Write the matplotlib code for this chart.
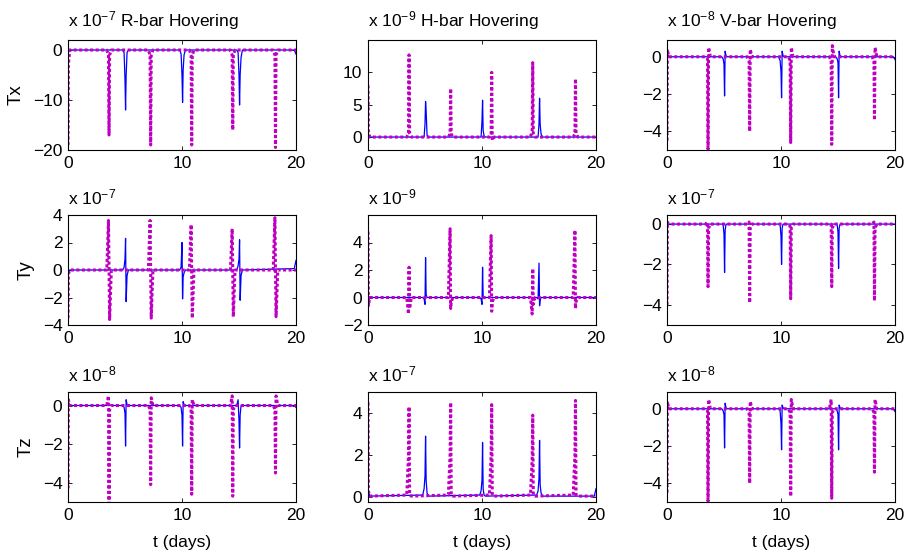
import numpy as np
import matplotlib.pyplot as plt

plt.rcParams['font.family'] = ['Liberation Sans', 'DejaVu Sans']
plt.rcParams['mathtext.default'] = 'regular'

# time grids (days)
t_blue = [0, 0.03, 0.15,
          4.8, 4.92, 5.0, 5.05, 5.1, 5.18, 5.3,
          9.8, 9.92, 10.0, 10.05, 10.1, 10.18, 10.3,
          14.8, 14.92, 15.0, 15.05, 15.1, 15.18, 15.3,
          19.85, 20.0]
t_mag = [0, 0.03, 0.15,
         3.4, 3.55, 3.6, 3.65, 3.8,
         7.05, 7.2, 7.25, 7.3, 7.45,
         10.65, 10.8, 10.85, 10.9, 11.05,
         14.25, 14.4, 14.45, 14.5, 14.65,
         18.0, 18.15, 18.2, 18.25, 18.4,
         20.0]

# Tx, R-bar (x 1e-7)
tx_r_blue = [-3, -0.5, 0,
             0, -0.5, -6, -12, -5, -0.5, 0,
             0, -0.8, -5, -10.5, -4, -1, 0,
             0, -0.5, -5, -11, -5, -1.5, 0,
             0, -0.8]
tx_r_mag = [-19, -3, 0,
            0, -1, -17, -1, 0,
            0, -1, -19, -1, 0,
            0, -1, -19, -1, 0,
            0, -1, -16, -1, 0,
            0, -1, -19.5, -1, 0,
            0]
# Tx, H-bar (x 1e-9)
tx_h_blue = [3, 0.5, 0,
             0, 0, 2, 5.5, 4, 0.3, 0,
             0, 0, 2.5, 5.7, 1, 0.2, 0,
             0, 0, 2, 6, 2, 0.5, 0,
             0, 0]
tx_h_mag = [8, 1, 0,
            0, 0.5, 12.7, 0.5, 0,
            0, 0.5, 7.5, 0.5, 0,
            0, 0.3, 10, -0.5, 0,
            0, 1, 11.5, 0.5, 0,
            0, 0.5, 9, 0.5, 0,
            0]
# Tx, V-bar (x 1e-8)
tx_v_blue = [-1, 0.2, 0,
             0, -0.1, -0.4, -2.1, 0.3, 0.05, 0,
             0, -0.2, -0.8, -2.2, 0.3, 0.05, 0,
             0, -0.1, -0.3, -2.2, 0.3, 0.05, 0,
             0, -0.15]
tx_v_mag = [-4.5, 0.4, 0,
            0, -0.1, -5.5, 0.5, 0,
            0, -0.2, -4.0, 0.4, 0,
            0, -0.2, -4.6, 0.5, 0,
            0, -0.2, -4.7, 0.6, 0,
            0, -0.2, -3.4, 0.5, 0,
            0]

# Ty, R-bar (x 1e-7)
ty_r_blue = [-2, -0.3, 0,
             0, 0.2, 0.8, 2.3, -2.3, -0.4, 0,
             0, 0.2, 2.0, -2.1, -0.5, -0.2, 0,
             0, 0.3, 0.8, 2.2, -2.2, -0.4, 0,
             0.1, 0.7]
ty_r_mag = [-3.5, -0.3, 0,
            0, 3.6, 0, -3.6, 0,
            0, 3.6, 0, -3.5, 0,
            0, 3.3, 0, -3.5, 0,
            0, 3.0, 0, -3.4, 0,
            0, 3.8, 0, -3.4, 0,
            0]
# Ty, H-bar (x 1e-9)
ty_h_blue = [2, -0.3, 0,
             0, -0.1, -0.5, 2.9, 0.2, 0, 0,
             0, -0.1, -0.5, 2.2, 0.1, 0, 0,
             0, -0.1, 2.5, -0.6, -0.2, 0, 0,
             0, 0]
ty_h_mag = [4.8, -0.6, 0,
            0, -1.2, 2.2, -0.8, 0,
            0, 5.0, -0.8, -0.3, 0,
            0, 4.5, -1.0, -0.3, 0,
            0, -1.2, 2.1, -0.5, 0,
            0, 4.9, -0.8, -0.3, 0,
            0]
# Ty, V-bar (x 1e-7)
ty_v_blue = [-1, 0, 0,
             0, 0, -0.5, -2.4, -0.3, 0, 0,
             0, 0, -0.6, -2.0, -0.2, 0, 0,
             0, 0, -0.4, -2.2, -0.2, 0, 0,
             0, 0]
ty_v_mag = [-4, 0.1, 0,
            0, 0.1, -3.1, -0.2, 0,
            0, 0.1, -3.9, -0.2, 0,
            0, -0.1, -3.7, -0.2, 0,
            0, 0.0, -3.1, -0.2, 0,
            0, 0.1, -3.8, -0.2, 0,
            0]

# Tz, R-bar (x 1e-8)
tz_r_blue = [-2, 0.2, 0,
             0, -0.1, -0.4, -2.1, 0.3, 0.05, 0,
             0, -0.1, -0.5, -2.1, 0.2, 0.05, 0,
             0, 0.3, -0.8, -2.2, -0.5, 0, 0,
             0, -0.1]
tz_r_mag = [-4.3, 0.3, 0,
            0, 0.5, -5.5, -0.2, 0,
            0, -0.2, -4.1, 0.4, 0,
            0, -0.2, -4.6, 0.3, 0,
            0, 0.5, -4.7, -0.2, 0,
            0, -0.2, -3.5, 0.5, 0,
            0]
# Tz, H-bar (x 1e-7)
tz_h_blue = [2.5, 0.3, 0.05,
             0.1, 0.4, 1.0, 2.9, 0.8, 0.2, 0.05,
             0.1, 0.3, 0.8, 2.6, 0.4, 0.1, 0.05,
             0.1, 0.3, 0.9, 2.7, 0.6, 0.2, 0.05,
             0.05, 0.4]
tz_h_mag = [4.5, 0.3, 0.05,
            0.1, 2.0, 4.3, 0.1, 0.05,
            0.1, 2.0, 4.5, 0.1, 0.05,
            0.1, 2.0, 4.4, 0.1, 0.05,
            0.1, 1.8, 3.9, 0.1, 0.05,
            0.1, 2.0, 4.6, 0.1, 0.05,
            0.05]
# Tz, V-bar (x 1e-8)
tz_v_blue = [-2, 0.2, 0,
             0, -0.1, -0.3, -2.1, 0.3, 0.05, 0,
             0, -0.1, -0.8, -2.2, 0.2, 0.05, 0,
             0, -0.1, -0.3, -2.2, 0.2, 0.05, 0,
             0, -0.15]
tz_v_mag = [-4.5, 0.4, 0,
            0, -0.1, -5.5, 0.5, 0,
            0, -0.2, -4.0, 0.4, 0,
            0, -0.2, -4.7, 0.5, 0,
            0, 0.5, -4.8, -0.2, 0,
            0, -0.2, -3.4, 0.5, 0,
            0]

titles = ['R-bar Hovering', 'H-bar Hovering', 'V-bar Hovering']
row_labels = ['Tx', 'Ty', 'Tz']
exponents = [[-7, -9, -8], [-7, -9, -7], [-8, -7, -8]]
blues = [[tx_r_blue, tx_h_blue, tx_v_blue],
         [ty_r_blue, ty_h_blue, ty_v_blue],
         [tz_r_blue, tz_h_blue, tz_v_blue]]
mags = [[tx_r_mag, tx_h_mag, tx_v_mag],
        [ty_r_mag, ty_h_mag, ty_v_mag],
        [tz_r_mag, tz_h_mag, tz_v_mag]]
ylims = [[(-20, 2), (-2, 15), (-5, 0.9)],
         [(-4, 4), (-2, 6), (-5, 0.45)],
         [(-5, 0.7), (-0.23, 5), (-5, 0.9)]]
yticks = [[[-20, -10, 0], [0, 5, 10], [-4, -2, 0]],
          [[-4, -2, 0, 2, 4], [-2, 0, 2, 4], [-4, -2, 0]],
          [[-4, -2, 0], [0, 2, 4], [-4, -2, 0]]]

W, H = 912, 558
col_left = [68, 368, 667]
row_top = [40, 215, 392]
aw, ah = 228, 110

fig = plt.figure(figsize=(W / 100, H / 100), dpi=100)
fs = 12.5

for i in range(3):
    for j in range(3):
        ax = fig.add_axes([col_left[j] / W, 1 - (row_top[i] + ah) / H, aw / W, ah / H])
        ax.plot(t_blue, blues[i][j], color='#0000ff', lw=0.9)
        ax.plot(t_mag, mags[i][j], color='#c000c0', lw=2.2,
                linestyle=(0, (1.0, 0.8)), dash_capstyle='butt')
        ax.set_xlim(0, 20)
        ax.set_ylim(*ylims[i][j])
        ax.set_xticks([0, 10, 20])
        ax.set_yticks(yticks[i][j])
        ax.tick_params(direction='in', top=True, right=True, length=3,
                       width=0.6, labelsize=fs, pad=4)
        for s in ax.spines.values():
            s.set_linewidth(0.8)
        lab = 'x 10$^{%d}$' % exponents[i][j]
        if i == 0:
            lab = lab + ' ' + titles[j]
        ax.text(0, 1.07, lab, transform=ax.transAxes, fontsize=fs,
                ha='left', va='bottom')
        if j == 0:
            ax.set_ylabel(row_labels[i], fontsize=fs + 1, labelpad=6)
        if i == 2:
            ax.set_xlabel('t (days)', fontsize=fs, labelpad=9)

fig.savefig('out.png', dpi=100)
